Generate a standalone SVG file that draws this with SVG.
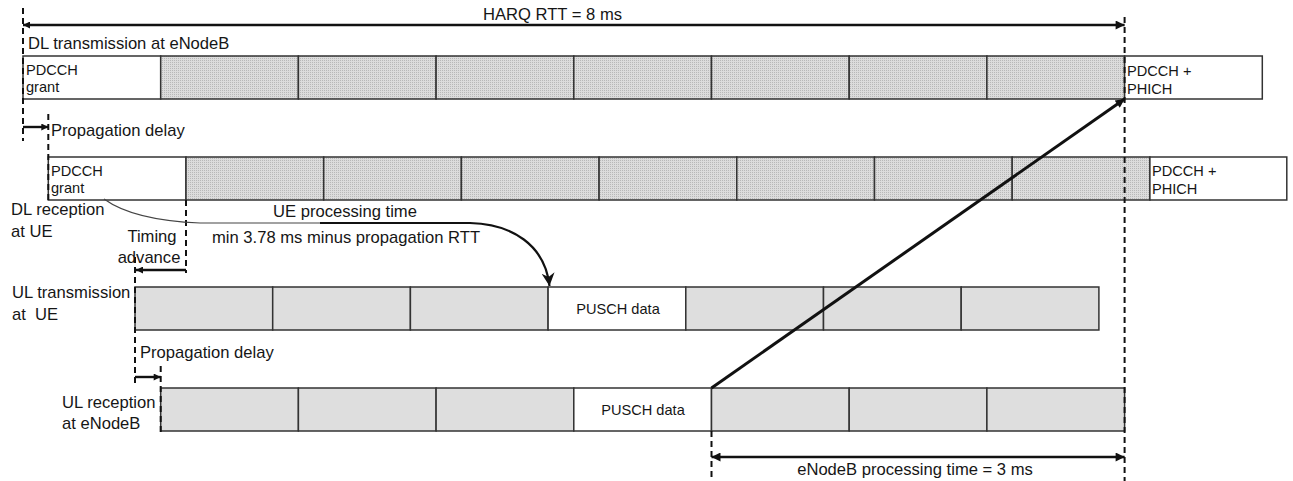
<svg xmlns="http://www.w3.org/2000/svg" width="1293" height="481" viewBox="0 0 1293 481">
  <style>
    text { font-family: "Liberation Sans", Arial, sans-serif; fill: #161616; }
    .lbl { font-size: 16.6px; }
    .cell-t { font-size: 14.6px; }
    .cell { stroke: #333; stroke-width: 1.5; }
    .dot { fill: url(#stipple); }
    .solid { fill: #dedede; }
    .blank { fill: #fff; }
    .dash { fill: none; stroke: #111; stroke-width: 2; stroke-dasharray: 6 4; }
    .dim { fill: none; stroke: #111; stroke-width: 2.4; }
    .pre { white-space: pre; }
  </style>
  <defs>
    <pattern id="stipple" width="2" height="2" patternUnits="userSpaceOnUse">
      <rect width="2" height="2" fill="#dcdcdc"/>
      <rect width="1" height="1" fill="#b8b8b8"/>
    </pattern>
    <marker id="ah" viewBox="0 0 10 10" refX="10" refY="5" markerWidth="11" markerHeight="9" markerUnits="userSpaceOnUse" orient="auto-start-reverse">
      <path d="M0,0 L10,5 L0,10 z" fill="#111"/>
    </marker>
    <marker id="ahs" viewBox="0 0 10 10" refX="10" refY="5" markerWidth="8" markerHeight="7" markerUnits="userSpaceOnUse" orient="auto-start-reverse">
      <path d="M0,0 L10,5 L0,10 z" fill="#111"/>
    </marker>
    <marker id="ahv" viewBox="0 0 10 10" refX="10" refY="5" markerWidth="17" markerHeight="13" markerUnits="userSpaceOnUse" orient="auto">
      <path d="M0,0 L10,5 L0,10 L3,5 z" fill="#111"/>
    </marker>
  </defs>

  <rect width="1293" height="481" fill="#fff"/>

  <!-- DL transmission at eNodeB -->
  <g id="dl-tx-enb">
    <text class="lbl" x="28" y="49">DL transmission at eNodeB</text>
    <rect class="cell blank" x="23" y="56" width="137.7" height="43"/>
    <rect class="cell dot" x="160.7" y="56" width="137.7" height="43"/>
    <rect class="cell dot" x="298.4" y="56" width="137.7" height="43"/>
    <rect class="cell dot" x="436.1" y="56" width="137.7" height="43"/>
    <rect class="cell dot" x="573.8" y="56" width="137.7" height="43"/>
    <rect class="cell dot" x="711.5" y="56" width="137.7" height="43"/>
    <rect class="cell dot" x="849.2" y="56" width="137.7" height="43"/>
    <rect class="cell dot" x="986.9" y="56" width="137.7" height="43"/>
    <rect class="cell blank" x="1124.6" y="56" width="137.7" height="43"/>
    <text class="cell-t" x="26" y="75">PDCCH</text>
    <text class="cell-t" x="26" y="92">grant</text>
    <text class="cell-t" x="1127" y="76">PDCCH +</text>
    <text class="cell-t" x="1127" y="94">PHICH</text>
  </g>

  <!-- DL reception at UE -->
  <g id="dl-rx-ue">
    <text class="lbl" x="11" y="215">DL reception</text>
    <text class="lbl" x="11" y="237">at UE</text>
    <rect class="cell blank" x="48.3" y="157" width="137.7" height="43"/>
    <rect class="cell dot" x="186" y="157" width="137.7" height="43"/>
    <rect class="cell dot" x="323.7" y="157" width="137.7" height="43"/>
    <rect class="cell dot" x="461.4" y="157" width="137.7" height="43"/>
    <rect class="cell dot" x="599.1" y="157" width="137.7" height="43"/>
    <rect class="cell dot" x="736.8" y="157" width="137.7" height="43"/>
    <rect class="cell dot" x="874.5" y="157" width="137.7" height="43"/>
    <rect class="cell dot" x="1012.2" y="157" width="137.7" height="43"/>
    <rect class="cell blank" x="1149.9" y="157" width="136.9" height="43"/>
    <text class="cell-t" x="51" y="176">PDCCH</text>
    <text class="cell-t" x="51" y="193">grant</text>
    <text class="cell-t" x="1152" y="176">PDCCH +</text>
    <text class="cell-t" x="1152" y="194">PHICH</text>
  </g>

  <!-- UL transmission at UE -->
  <g id="ul-tx-ue">
    <text class="lbl" x="12" y="298">UL transmission</text>
    <text class="lbl pre" x="12" y="320">at  UE</text>
    <rect class="cell solid" x="135" y="287" width="137.7" height="43"/>
    <rect class="cell solid" x="272.7" y="287" width="137.7" height="43"/>
    <rect class="cell solid" x="410.4" y="287" width="137.7" height="43"/>
    <rect class="cell blank" x="548.1" y="287" width="137.7" height="43"/>
    <rect class="cell solid" x="685.8" y="287" width="137.7" height="43"/>
    <rect class="cell solid" x="823.5" y="287" width="137.7" height="43"/>
    <rect class="cell solid" x="961.2" y="287" width="137.7" height="43"/>
    <text class="cell-t" x="618" y="314" text-anchor="middle">PUSCH data</text>
  </g>

  <!-- UL reception at eNodeB -->
  <g id="ul-rx-enb">
    <text class="lbl" x="62" y="408">UL reception</text>
    <text class="lbl" x="62" y="429">at eNodeB</text>
    <rect class="cell solid" x="160.7" y="388" width="137.7" height="43"/>
    <rect class="cell solid" x="298.4" y="388" width="137.7" height="43"/>
    <rect class="cell solid" x="436.1" y="388" width="137.7" height="43"/>
    <rect class="cell blank" x="573.8" y="388" width="137.7" height="43"/>
    <rect class="cell solid" x="711.5" y="388" width="137.7" height="43"/>
    <rect class="cell solid" x="849.2" y="388" width="137.7" height="43"/>
    <rect class="cell solid" x="986.9" y="388" width="137.7" height="43"/>
    <text class="cell-t" x="643" y="415" text-anchor="middle">PUSCH data</text>
  </g>

  <!-- timing guides, intervals and transfer arrows -->
  <g id="connectors">
    <!-- dashed time markers -->
    <line class="dash" x1="23" y1="8" x2="23" y2="141"/>
    <line class="dash" x1="48.3" y1="114" x2="48.3" y2="200"/>
    <line class="dash" x1="186" y1="200" x2="186" y2="273"/>
    <line class="dash" x1="135" y1="257" x2="135" y2="383"/>
    <line class="dash" x1="160.7" y1="366" x2="160.7" y2="432"/>
    <line class="dash" x1="1124.6" y1="17" x2="1124.6" y2="481"/>
    <line class="dash" x1="711.5" y1="431" x2="711.5" y2="481"/>

    <!-- HARQ RTT -->
    <line class="dim" x1="23" y1="25" x2="1124.6" y2="25" marker-start="url(#ahs)" marker-end="url(#ah)"/>
    <text class="lbl" x="483" y="20">HARQ RTT = 8 ms</text>

    <!-- propagation delay, downlink -->
    <line class="dim" x1="23" y1="127" x2="48.3" y2="127" stroke-width="2" marker-end="url(#ahs)"/>
    <text class="lbl" x="51" y="136">Propagation delay</text>

    <!-- UE processing time -->
    <path d="M104,199 C122,212 150,221 200,223 L330,223" fill="none" stroke="#444" stroke-width="1.2"/>
    <path d="M320,223 L470,223 C512,224 545,245 549.5,286" fill="none" stroke="#111" stroke-width="2.2" marker-end="url(#ahv)"/>
    <text class="lbl" x="273" y="217">UE processing time</text>
    <text class="lbl" x="212" y="243">min 3.78 ms minus propagation RTT</text>

    <!-- timing advance -->
    <line class="dim" x1="186" y1="270" x2="136" y2="270" stroke-width="2" marker-end="url(#ahs)"/>
    <text class="lbl" x="152" y="242" text-anchor="middle">Timing</text>
    <text class="lbl" x="149" y="263" text-anchor="middle">advance</text>

    <!-- propagation delay, uplink -->
    <line class="dim" x1="135" y1="377" x2="160.7" y2="377" stroke-width="2" marker-end="url(#ahs)"/>
    <text class="lbl" x="140" y="358">Propagation delay</text>

    <!-- PUSCH received -> PHICH -->
    <line x1="711.5" y1="388" x2="1124.6" y2="99" stroke="#111" stroke-width="3" marker-end="url(#ah)"/>

    <!-- eNodeB processing time -->
    <line class="dim" x1="711.5" y1="457" x2="1124.6" y2="457" marker-start="url(#ah)" marker-end="url(#ah)"/>
    <text class="lbl" x="915" y="475" text-anchor="middle">eNodeB processing time = 3 ms</text>
  </g>
</svg>
